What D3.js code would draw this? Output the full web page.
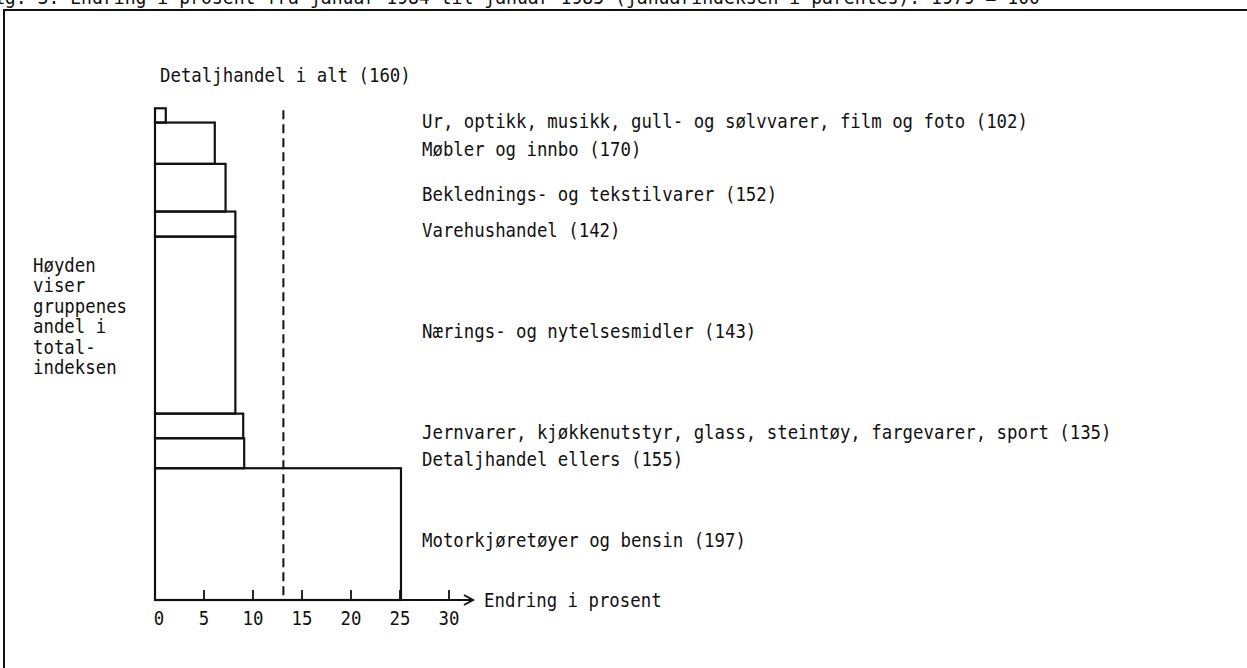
<!DOCTYPE html>
<html>
<head>
<meta charset="utf-8">
<script src="https://cdn.jsdelivr.net/npm/d3@7"></script>
<style>
  html, body { margin: 0; padding: 0; background: #fff; }
  svg { display: block; }
  text { font-family: "DejaVu Sans Mono", "Liberation Mono", monospace; fill: #111; }
</style>
</head>
<body>
<svg id="chart" width="1247" height="668"></svg>
<script>
// ---- data (bottom to top of the stack) ----
const categories = [
  "Motorkjøretøyer og bensin (197)",
  "Detaljhandel ellers (155)",
  "Jernvarer, kjøkkenutstyr, glass, steintøy, fargevarer, sport (135)",
  "Nærings- og nytelsesmidler (143)",
  "Varehushandel (142)",
  "Beklednings- og tekstilvarer (152)",
  "Møbler og innbo (170)",
  "Ur, optikk, musikk, gull- og sølvvarer, film og foto (102)"
];
const changePct = [25.1, 9.1, 9.0, 8.2, 8.2, 7.2, 6.1, 1.1];   // width: endring i prosent
const weights   = [26.8, 6.1, 5.0, 36.0, 5.1, 9.7, 8.4, 2.9];  // height: andel i totalindeksen
const totalChange = 13.1;
const totalLabel = "Detaljhandel i alt (160)";
const xTicks = [0, 5, 10, 15, 20, 25, 30];
const titleText = "Fig. 3. Endring i prosent fra januar 1984 til januar 1985 (januarindeksen i parentes). 1979 = 100";
const noteLines = ["Høyden", "viser", "gruppenes", "andel i", "total-", "indeksen"];
const xAxisLabel = "Endring i prosent";

// ---- layout ----
const svg = d3.select("#chart");
const FS = 19;          // font size
const SX = 0.914;       // horizontal squeeze to get a tall, narrow typewriter look

function addText(parent, x, y, str, anchor) {
  return parent.append("text")
    .attr("transform", `translate(${x},${y}) scale(${SX},1)`)
    .attr("text-anchor", anchor || "start")
    .style("font-size", FS + "px")
    .text(str);
}

const x = d3.scaleLinear().domain([0, 30]).range([155, 449]);
const totalW = d3.sum(weights);
const y = d3.scaleLinear().domain([0, totalW]).range([600, 108.3]);

// frame
svg.append("line").attr("x1", 3).attr("x2", 1247).attr("y1", 10).attr("y2", 10)
  .attr("stroke", "#111").attr("stroke-width", 2.2);
svg.append("line").attr("x1", 4).attr("x2", 4).attr("y1", 10).attr("y2", 668)
  .attr("stroke", "#111").attr("stroke-width", 2);

// title (cut off at the top)
svg.append("text").attr("x", -17).attr("y", 4)
  .attr("textLength", 1057).attr("lengthAdjust", "spacingAndGlyphs")
  .style("font-size", "19px").text(titleText);

// stacked bars
let cum = 0;
const stack = weights.map((w, i) => { const d = { i, y0: cum, y1: cum + w, v: changePct[i], name: categories[i] }; cum += w; return d; });

svg.append("g").selectAll("rect").data(stack).join("rect")
  .attr("x", x(0))
  .attr("y", d => y(d.y1))
  .attr("width", d => x(d.v) - x(0))
  .attr("height", d => y(d.y0) - y(d.y1))
  .attr("fill", "none").attr("stroke", "#111").attr("stroke-width", 2.2);

// dashed total line
svg.append("line")
  .attr("x1", x(totalChange)).attr("x2", x(totalChange))
  .attr("y1", y(totalW) + 2).attr("y2", y(0))
  .attr("stroke", "#111").attr("stroke-width", 2).attr("stroke-dasharray", "9,5");

// x axis
const axisG = svg.append("g").attr("transform", `translate(0,${y(0)})`);
axisG.append("line").attr("x1", x(0)).attr("x2", 473).attr("y1", 0).attr("y2", 0)
  .attr("stroke", "#111").attr("stroke-width", 2);
axisG.append("path").attr("d", "M464,-5 L473,0 L464,5").attr("fill", "none")
  .attr("stroke", "#111").attr("stroke-width", 2);
axisG.selectAll("line.tick").data(xTicks.filter(t => t > 0)).join("line")
  .attr("class", "tick")
  .attr("x1", d => x(d)).attr("x2", d => x(d)).attr("y1", 0).attr("y2", -10)
  .attr("stroke", "#111").attr("stroke-width", 1.8);
xTicks.forEach(t => addText(axisG, x(t) + (t === 0 ? 4 : 0), 25, t, "middle"));
addText(axisG, 484, 7, xAxisLabel);

// category labels
const labG = svg.append("g");
stack.forEach(d => addText(labG, 422, (y(d.y0) + y(d.y1)) / 2 + 13, d.name));

// total label
addText(svg, 160, 82, totalLabel);

// note
const noteG = svg.append("g");
noteLines.forEach((s, i) => addText(noteG, 33, 272 + i * 20.4, s));
</script>
</body>
</html>
